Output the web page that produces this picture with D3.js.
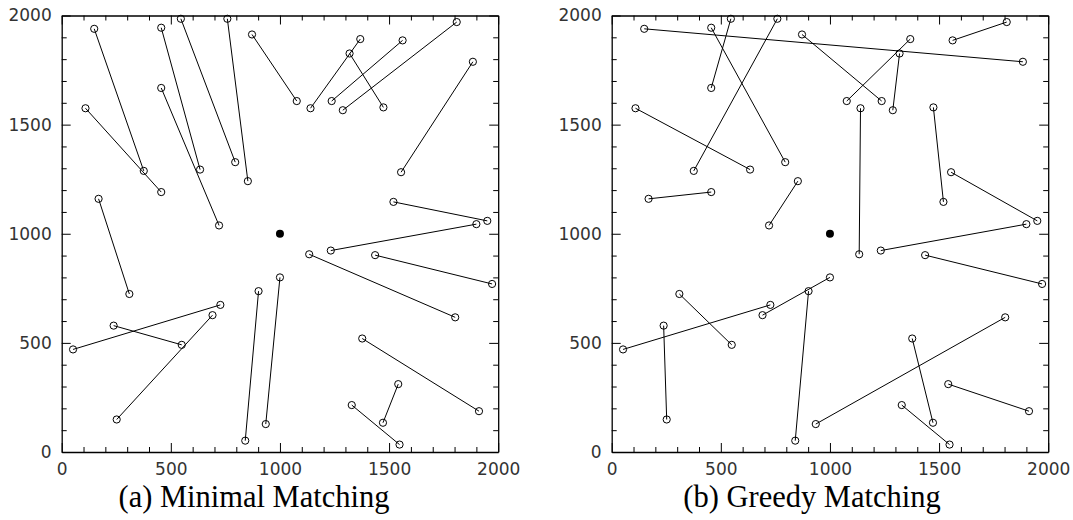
<!DOCTYPE html>
<html>
<head>
<meta charset="utf-8">
<script src="https://cdn.jsdelivr.net/npm/d3@7"></script>
<style>
    body { margin: 0; background: #fff; }
    .axis path, .axis line { stroke: #000; }
    .axis text { font-family: "DejaVu Sans", sans-serif; font-size: 17px; fill: #333; }
    .caption { font-family: "Liberation Serif", serif; font-size: 30.5px; fill: #000; }
</style>
</head>
<body>
<svg id="chart" width="1073" height="520"></svg>
<script>
"use strict";

// the 50 random points (same set in both panels)
const pointX = [149, 376, 109, 456, 456, 634, 456, 721, 546, 795,
    759, 853, 872, 1077, 169, 310, 1368, 1140, 1319, 1474,
    1237, 1562, 1288, 1810, 1555, 1884, 1520, 1950, 1233, 1900,
    1134, 1803, 1436, 1972, 1377, 1912, 1542, 1472, 1329, 1548,
    1000, 935, 52, 727, 238, 550, 691, 252, 902, 841];
const pointY = [1939, 1288, 1575, 1191, 1944, 1294, 1668, 1038, 1985, 1328,
    1985, 1241, 1913, 1608, 1160, 724, 1892, 1575, 1826, 1579,
    1608, 1886, 1566, 1970, 1282, 1788, 1146, 1059, 923, 1044,
    906, 617, 902, 770, 520, 187, 311, 134, 215, 34,
    800, 128, 470, 674, 579, 491, 627, 149, 737, 52];

// index pairs of matched points
const minimalPairs = [[0, 1], [2, 3], [4, 5], [6, 7], [8, 9], [10, 11], [12, 13],
    [14, 15], [16, 17], [18, 19], [20, 21], [22, 23], [24, 25], [26, 27], [28, 29],
    [30, 31], [32, 33], [34, 35], [36, 37], [38, 39], [40, 41], [42, 43], [44, 45],
    [46, 47], [48, 49]];
const greedyPairs = [[0, 25], [4, 9], [8, 6], [10, 1], [2, 5], [14, 3], [11, 7],
    [12, 20], [16, 13], [18, 22], [17, 30], [21, 23], [19, 26], [24, 27], [29, 28],
    [42, 43], [46, 40], [44, 47], [15, 45], [48, 49], [32, 33], [41, 31], [34, 37],
    [36, 35], [38, 39]];

const centerX = [1000];
const centerY = [1000];

const majorTicks = [0, 500, 1000, 1500, 2000];
const minorTicks = [100, 200, 300, 400, 600, 700, 800, 900, 1100, 1200, 1300, 1400,
    1600, 1700, 1800, 1900];
const captions = ["(a) Minimal Matching", "(b) Greedy Matching"];

const svg = d3.select("#chart");
const plotTop = 15.5;
const plotBottom = 452;
const plotSize = 436.5;

const drawPanel = (left, pairs, caption, captionX) => {
    const g = svg.append("g");
    const x = d3.scaleLinear().domain([0, 2000]).range([left, left + plotSize]);
    const y = d3.scaleLinear().domain([0, 2000]).range([plotBottom, plotTop]);

    const sides = [
        { make: d3.axisBottom, scale: x, tx: 0, ty: plotBottom, pad: 11, labels: true },
        { make: d3.axisLeft, scale: y, tx: left, ty: 0, pad: 10, labels: true },
        { make: d3.axisTop, scale: x, tx: 0, ty: plotTop, pad: 0, labels: false },
        { make: d3.axisRight, scale: y, tx: left + plotSize, ty: 0, pad: 0, labels: false },
    ];
    sides.forEach((s) => {
        g.append("g").attr("class", "axis")
            .attr("transform", `translate(${s.tx},${s.ty})`)
            .call(s.make(s.scale).tickValues(minorTicks).tickSize(-5).tickFormat(""))
            .call((a) => a.select(".domain").remove());
        g.append("g").attr("class", "axis")
            .attr("transform", `translate(${s.tx},${s.ty})`)
            .call(s.make(s.scale).tickValues(majorTicks).tickSizeInner(-9).tickSizeOuter(0)
                .tickPadding(s.pad).tickFormat(s.labels ? d3.format("d") : ""))
            .call((a) => a.select(".domain").attr("stroke-width", 1.3));
    });

    g.selectAll(".seg").data(pairs).join("line")
        .attr("class", "seg")
        .attr("x1", (d) => x(pointX[d[0]]))
        .attr("y1", (d) => y(pointY[d[0]]))
        .attr("x2", (d) => x(pointX[d[1]]))
        .attr("y2", (d) => y(pointY[d[1]]))
        .attr("stroke", "#000")
        .attr("stroke-width", 1);

    g.selectAll(".pt").data(pointX).join("circle")
        .attr("class", "pt")
        .attr("cx", (d) => x(d))
        .attr("cy", (d, i) => y(pointY[i]))
        .attr("r", 3.6)
        .attr("fill", "none")
        .attr("stroke", "#000")
        .attr("stroke-width", 1);

    g.selectAll(".center").data(centerX).join("circle")
        .attr("class", "center")
        .attr("cx", (d) => x(d))
        .attr("cy", (d, i) => y(centerY[i]))
        .attr("r", 4)
        .attr("fill", "#000");

    g.append("text").attr("class", "caption")
        .attr("x", captionX)
        .attr("y", 506.5)
        .attr("text-anchor", "middle")
        .text(caption);
};

drawPanel(61.7, minimalPairs, captions[0], 254);
drawPanel(611.7, greedyPairs, captions[1], 812);
</script>
</body>
</html>
